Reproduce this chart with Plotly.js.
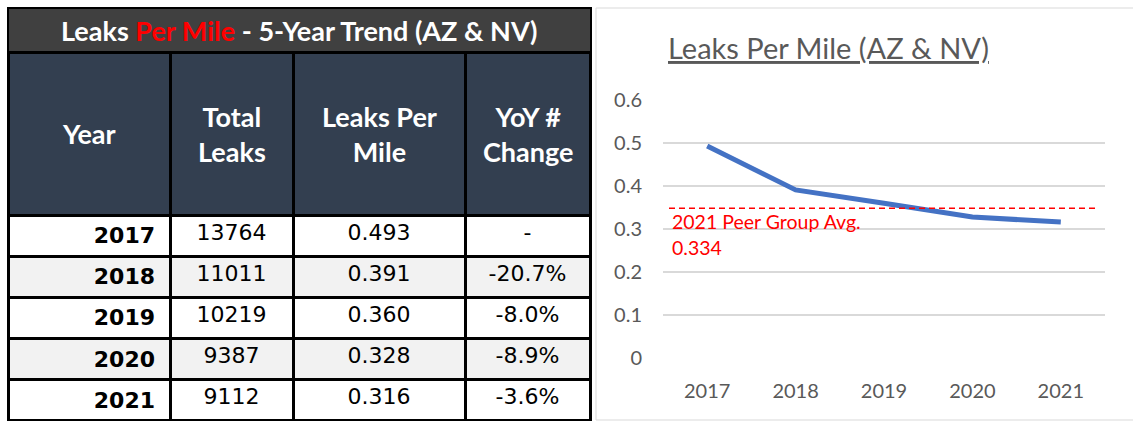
<!DOCTYPE html>
<html>
<head>
<meta charset="utf-8">
<script src="https://cdn.plot.ly/plotly-3.0.1.min.js"></script>
<style>
html,body{margin:0;padding:0;background:#fff;}
#chart{width:1133px;height:421px;}
</style>
</head>
<body>
<div id="chart"></div>
<script>
// ---- data ----
const years = ["2017", "2018", "2019", "2020", "2021"];
const totalLeaks = ["13764", "11011", "10219", "9387", "9112"];
const leaksPerMile = [0.493, 0.391, 0.360, 0.328, 0.316];
const yoyChange = ["-", "-20.7%", "-8.0%", "-8.9%", "-3.6%"];
const headerLabels = ["Year", "Total<br>Leaks", "Leaks Per<br>Mile", "YoY #<br>Change"];
const peerAvgLabel = "2021 Peer Group Avg.";
const peerAvgValue = "0.334";
const peerLineLevel = 0.348;   // where the dashed line is drawn in the picture
const yTicks = [0, 0.1, 0.2, 0.3, 0.4, 0.5, 0.6];

const W = 1133, H = 421;
const px = x => x / W;
const py = y => (H - y) / H;

const colEdges = [8, 170, 293, 465, 590];
const colWidths = colEdges.slice(1).map((e, i) => e - colEdges[i]);
const colCenters = colEdges.slice(1).map((e, i) => (e + colEdges[i]) / 2);

const rowFill = years.map((_, i) => i % 2 === 1 ? "#F2F2F2" : "#FFFFFF");
const FONT = "Lato, 'Open Sans', sans-serif";
const CELLFONT = "'DejaVu Sans', Lato, sans-serif";

const tableTrace = {
  type: "table",
  domain: { x: [px(colEdges[0]), px(colEdges[4])], y: [0, py(52)] },
  columnwidth: colWidths,
  header: {
    values: headerLabels.map(() => ""),
    height: 163,
    align: "center",
    fill: { color: "#333F50" },
    line: { color: "#000000", width: 3 },
    font: { family: FONT, size: 27, color: "#FFFFFF" }
  },
  cells: {
    values: [years.map(y => "<b>" + y + "</b>\u00a0"), totalLeaks,
             leaksPerMile.map(v => v.toFixed(3)), yoyChange],
    height: 41.2,
    align: ["right", "center", "center", "center"],
    fill: { color: [rowFill, rowFill, rowFill, rowFill] },
    line: { color: "#000000", width: 3 },
    font: { family: CELLFONT, size: 22, color: "#000000" }
  }
};

const lineTrace = {
  type: "scatter",
  mode: "lines",
  x: years,
  y: leaksPerMile,
  xaxis: "x", yaxis: "y",
  line: { color: "#4472C4", width: 5 },
  hoverinfo: "skip",
  showlegend: false
};

const headerAnnotations = headerLabels.map((t, i) => ({
  xref: "paper", yref: "paper", x: px(colCenters[i]), y: py(134),
  xanchor: "center", yanchor: "middle", showarrow: false,
  text: "<b>" + t + "</b>",
  font: { family: FONT, size: 27, color: "#FFFFFF" }
}));

const layout = {
  width: W, height: H,
  margin: { l: 0, r: 0, t: 0, b: 0 },
  paper_bgcolor: "#FFFFFF",
  plot_bgcolor: "rgba(0,0,0,0)",
  showlegend: false,
  font: { family: FONT, color: "#595959" },
  xaxis: {
    domain: [px(663), px(1105)],
    anchor: "y",
    type: "category",
    range: [-0.5, 4.5],
    showgrid: false, zeroline: false, showline: false,
    ticks: "", ticklabelstandoff: 19,
    tickfont: { family: FONT, size: 20, color: "#595959" },
    fixedrange: true
  },
  yaxis: {
    domain: [py(358), py(100)],
    anchor: "x",
    range: [0, 0.6],
    tickvals: yTicks,
    ticktext: yTicks.map(v => v === 0 ? "0" : v.toFixed(1)),
    showgrid: true, gridcolor: "#D9D9D9", gridwidth: 1.5,
    zeroline: false, showline: false,
    ticks: "", ticklabelstandoff: 20,
    tickfont: { family: FONT, size: 20, color: "#595959" },
    fixedrange: true
  },
  shapes: [
    // table title bar
    { type: "rect", xref: "paper", yref: "paper",
      x0: px(8), x1: px(591), y0: py(8), y1: py(52),
      fillcolor: "#404040", line: { color: "#000000", width: 2 }, layer: "below" },
    // chart frame
    { type: "rect", xref: "paper", yref: "paper",
      x0: px(596), x1: px(1140), y0: py(8), y1: py(420),
      fillcolor: "rgba(0,0,0,0)", line: { color: "#D9D9D9", width: 1 }, layer: "below" },
    // peer average dashed line
    { type: "line", xref: "paper", yref: "y",
      x0: px(669), x1: px(1097), y0: peerLineLevel, y1: peerLineLevel,
      line: { color: "#FF0000", width: 1.5, dash: "6px,4px" } }
  ],
  annotations: [
    { xref: "paper", yref: "paper", x: px(299), y: py(30),
      xanchor: "center", yanchor: "middle", showarrow: false,
      text: "<b>Leaks <span style='color:#FF0000'>Per Mile</span> - 5-Year Trend (AZ &amp; NV)</b>",
      font: { family: FONT, size: 27, color: "#FFFFFF" } },
    { xref: "paper", yref: "paper", x: px(666), y: py(47),
      xanchor: "left", yanchor: "middle", showarrow: false,
      text: "<u>Leaks Per Mile (AZ &amp; NV)</u>",
      font: { family: FONT, size: 29, color: "#595959" } },
    { xref: "paper", yref: "paper", x: px(670), y: py(221),
      xanchor: "left", yanchor: "middle", showarrow: false,
      text: peerAvgLabel,
      font: { family: FONT, size: 19.5, color: "#FF0000" } },
    { xref: "paper", yref: "paper", x: px(670), y: py(248),
      xanchor: "left", yanchor: "middle", showarrow: false,
      text: peerAvgValue,
      font: { family: FONT, size: 19.5, color: "#FF0000" } }
  ].concat(headerAnnotations)
};

Plotly.newPlot("chart", [tableTrace, lineTrace], layout, { displayModeBar: false, staticPlot: true });
</script>
</body>
</html>
